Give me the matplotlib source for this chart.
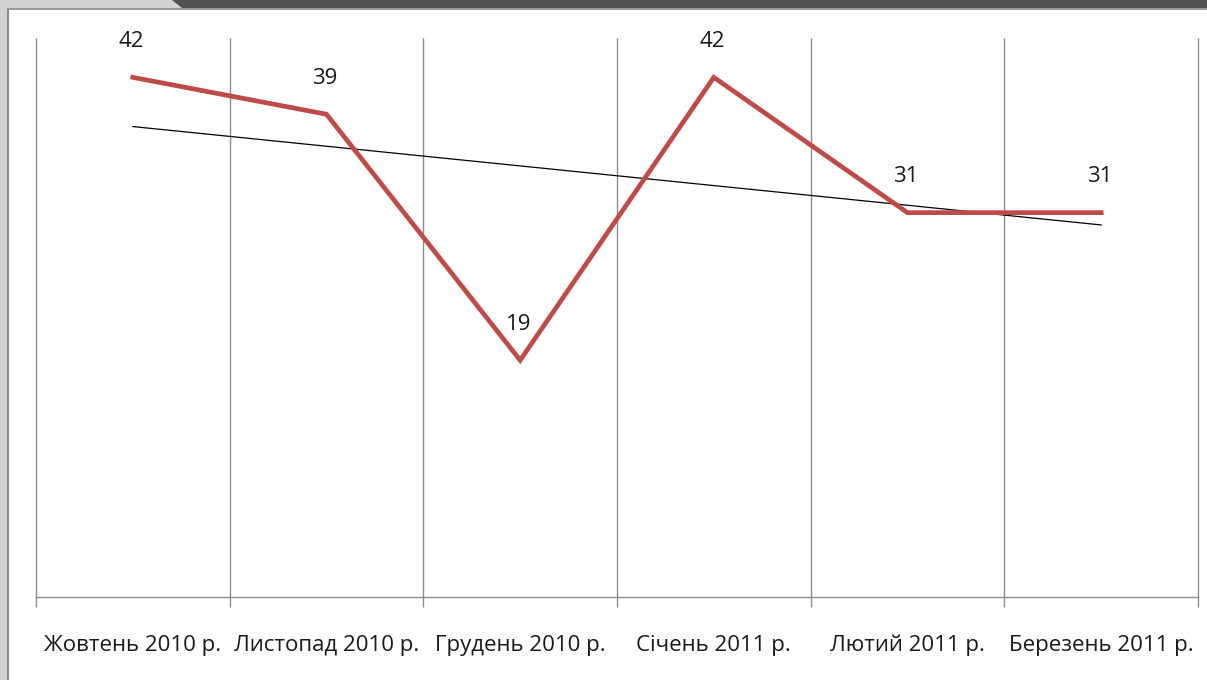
import numpy as np
import matplotlib.pyplot as plt
from matplotlib.patches import Polygon, Rectangle

# Дані
months = ['Жовтень 2010 р.', 'Листопад 2010 р.', 'Грудень 2010 р.',
          'Січень 2011 р.', 'Лютий 2011 р.', 'Березень 2011 р.']
values = [42, 39, 19, 42, 31, 31]

plt.rcParams['font.family'] = ['Open Sans', 'DejaVu Sans']

W, H = 1207, 680
fig = plt.figure(figsize=(W / 100, H / 100), dpi=100)
fig.patch.set_facecolor('white')

# рамка слайду
def px(x, y):
    return (x / W, 1 - y / H)

fig.add_artist(Rectangle(px(0, H), 8 / W, 1, transform=fig.transFigure,
                         facecolor='#d2d2d2', edgecolor='none'))
fig.add_artist(Rectangle(px(7, H), 2 / W, 1, transform=fig.transFigure,
                         facecolor='#8a8a8a', edgecolor='none'))
fig.add_artist(Polygon([px(0, 0), px(W, 0), px(W, 9), px(0, 9)], closed=True,
                       transform=fig.transFigure, facecolor='#d2d2d2', edgecolor='none'))
fig.add_artist(Polygon([px(172, 0), px(W, 0), px(W, 8), px(182, 8)], closed=True,
                       transform=fig.transFigure, facecolor='#505050', edgecolor='none'))
fig.add_artist(Rectangle(px(7, 10), 1, 2 / H, transform=fig.transFigure,
                         facecolor='#9a9a9a', edgecolor='none'))

ax = fig.add_axes([36 / W, 1 - 597 / H, (1198 - 36) / W, (597 - 38) / H])

x = np.arange(len(months))
bounds = np.arange(-0.5, len(months))
ax.set_xlim(-0.5, len(months) - 0.5)
ax.set_ylim(-0.25, 45.2)

# сітка
ax.vlines(bounds, -0.25, 45.2, color='#8c8c8c', linewidth=1, clip_on=False, zorder=1)

# тренд
k, b = np.polyfit(x, values, 1)
ax.plot(x, k * x + b, color='black', linewidth=0.9, zorder=2)

ax.plot(x, values, color='#be4b48', linewidth=3.4, solid_joinstyle='miter', zorder=3)

for xi, v in zip(x, values):
    ax.annotate(str(v), (xi, v), xytext=(-1, 26), textcoords='offset points',
                ha='center', va='center', fontsize=16, color='#1a1a1a')

ax.set_xticks(x)
ax.set_xticklabels(months, fontsize=16, color='#1a1a1a')
ax.set_xticks(bounds, minor=True)
ax.tick_params(axis='x', which='major', length=0, pad=27)
ax.tick_params(axis='x', which='minor', length=7, color='#8c8c8c', width=1)
ax.set_yticks([])

for side in ['top', 'right', 'left']:
    ax.spines[side].set_visible(False)
ax.spines['bottom'].set_color('#8c8c8c')
ax.spines['bottom'].set_linewidth(1)

fig.savefig('out.png', dpi=100)
